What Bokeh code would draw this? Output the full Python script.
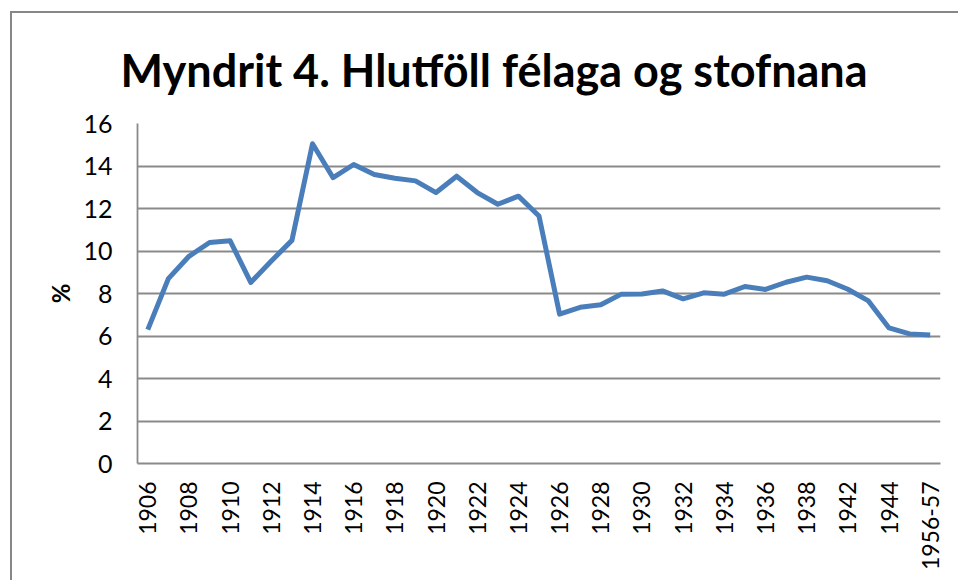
from bokeh.plotting import figure
from bokeh.models import FixedTicker, Range1d
from bokeh.embed import file_html
from bokeh.resources import INLINE

# ---- data ----
categories = ["1906", "1907", "1908", "1909", "1910", "1911", "1912", "1913",
              "1914", "1915", "1916", "1917", "1918", "1919", "1920", "1921",
              "1922", "1923", "1924", "1925", "1926", "1927", "1928", "1929",
              "1930", "1931", "1932", "1933", "1934", "1935", "1936", "1937",
              "1938", "1940", "1942", "1943", "1944", "1945", "1956-57"]
values = [6.3, 8.7, 9.75, 10.4, 10.48, 8.52, 9.53, 10.5,
          15.05, 13.45, 14.07, 13.6, 13.42, 13.3, 12.75, 13.52,
          12.75, 12.2, 12.58, 11.65, 7.03, 7.35, 7.47, 7.97,
          7.98, 8.12, 7.75, 8.03, 7.97, 8.33, 8.19, 8.53,
          8.77, 8.6, 8.2, 7.65, 6.38, 6.1, 6.05]
y_ticks = [0, 2, 4, 6, 8, 10, 12, 14, 16]
title_text = "Myndrit 4. Hlutföll félaga og stofnana"
y_label = "%"

xs = list(range(len(categories)))
shown = xs[::2]

p = figure(width=948, height=569, output_backend="svg", toolbar_location=None,
           x_range=Range1d(-0.5, len(categories) - 0.5), y_range=Range1d(0, 16),
           min_border_left=125, min_border_right=20, min_border_top=110,
           min_border_bottom=119, title=title_text)
p.styles = {"border-left": "2px solid #878787", "border-top": "2px solid #878787",
            "margin-left": "10px", "margin-top": "11px"}

p.line(xs, values, line_color="#4A7EBB", line_width=5, line_join="round")

p.title.text_font = "Lato"
p.title.text_font_style = "bold"
p.title.text_font_size = "45px"
p.title.text_color = "#000000"
p.title.align = "left"
p.title.offset = -17
p.title.standoff = 53

p.outline_line_color = None
p.background_fill_color = "white"
p.border_fill_color = "white"

p.xgrid.grid_line_color = None
p.ygrid.ticker = FixedTicker(ticks=y_ticks)
p.ygrid.grid_line_color = "#8a8a8a"
p.ygrid.grid_line_width = 1.8

p.yaxis.ticker = FixedTicker(ticks=y_ticks)
p.xaxis.ticker = FixedTicker(ticks=shown)
p.xaxis.major_label_overrides = {i: categories[i] for i in shown}
p.xaxis.major_label_orientation = 1.5707963267948966

for ax in (p.xaxis[0], p.yaxis[0]):
    ax.axis_line_color = "#8a8a8a"
    ax.axis_line_width = 1.8
    ax.major_tick_in = 0
    ax.major_tick_out = 0
    ax.minor_tick_in = 0
    ax.minor_tick_out = 0
    ax.major_label_text_font = "Lato"
    ax.major_label_text_color = "#000000"

p.yaxis.major_label_text_font_size = "25px"
p.yaxis.major_label_standoff = 25
p.xaxis.major_label_text_font_size = "23px"
p.xaxis.major_label_standoff = 18

p.yaxis.axis_label = y_label
p.yaxis.axis_label_text_font = "Lato"
p.yaxis.axis_label_text_font_style = "bold"
p.yaxis.axis_label_text_font_size = "24px"
p.yaxis.axis_label_text_color = "#000000"
p.yaxis.axis_label_standoff = 5

open("out.html", "w").write(file_html(p, INLINE))
